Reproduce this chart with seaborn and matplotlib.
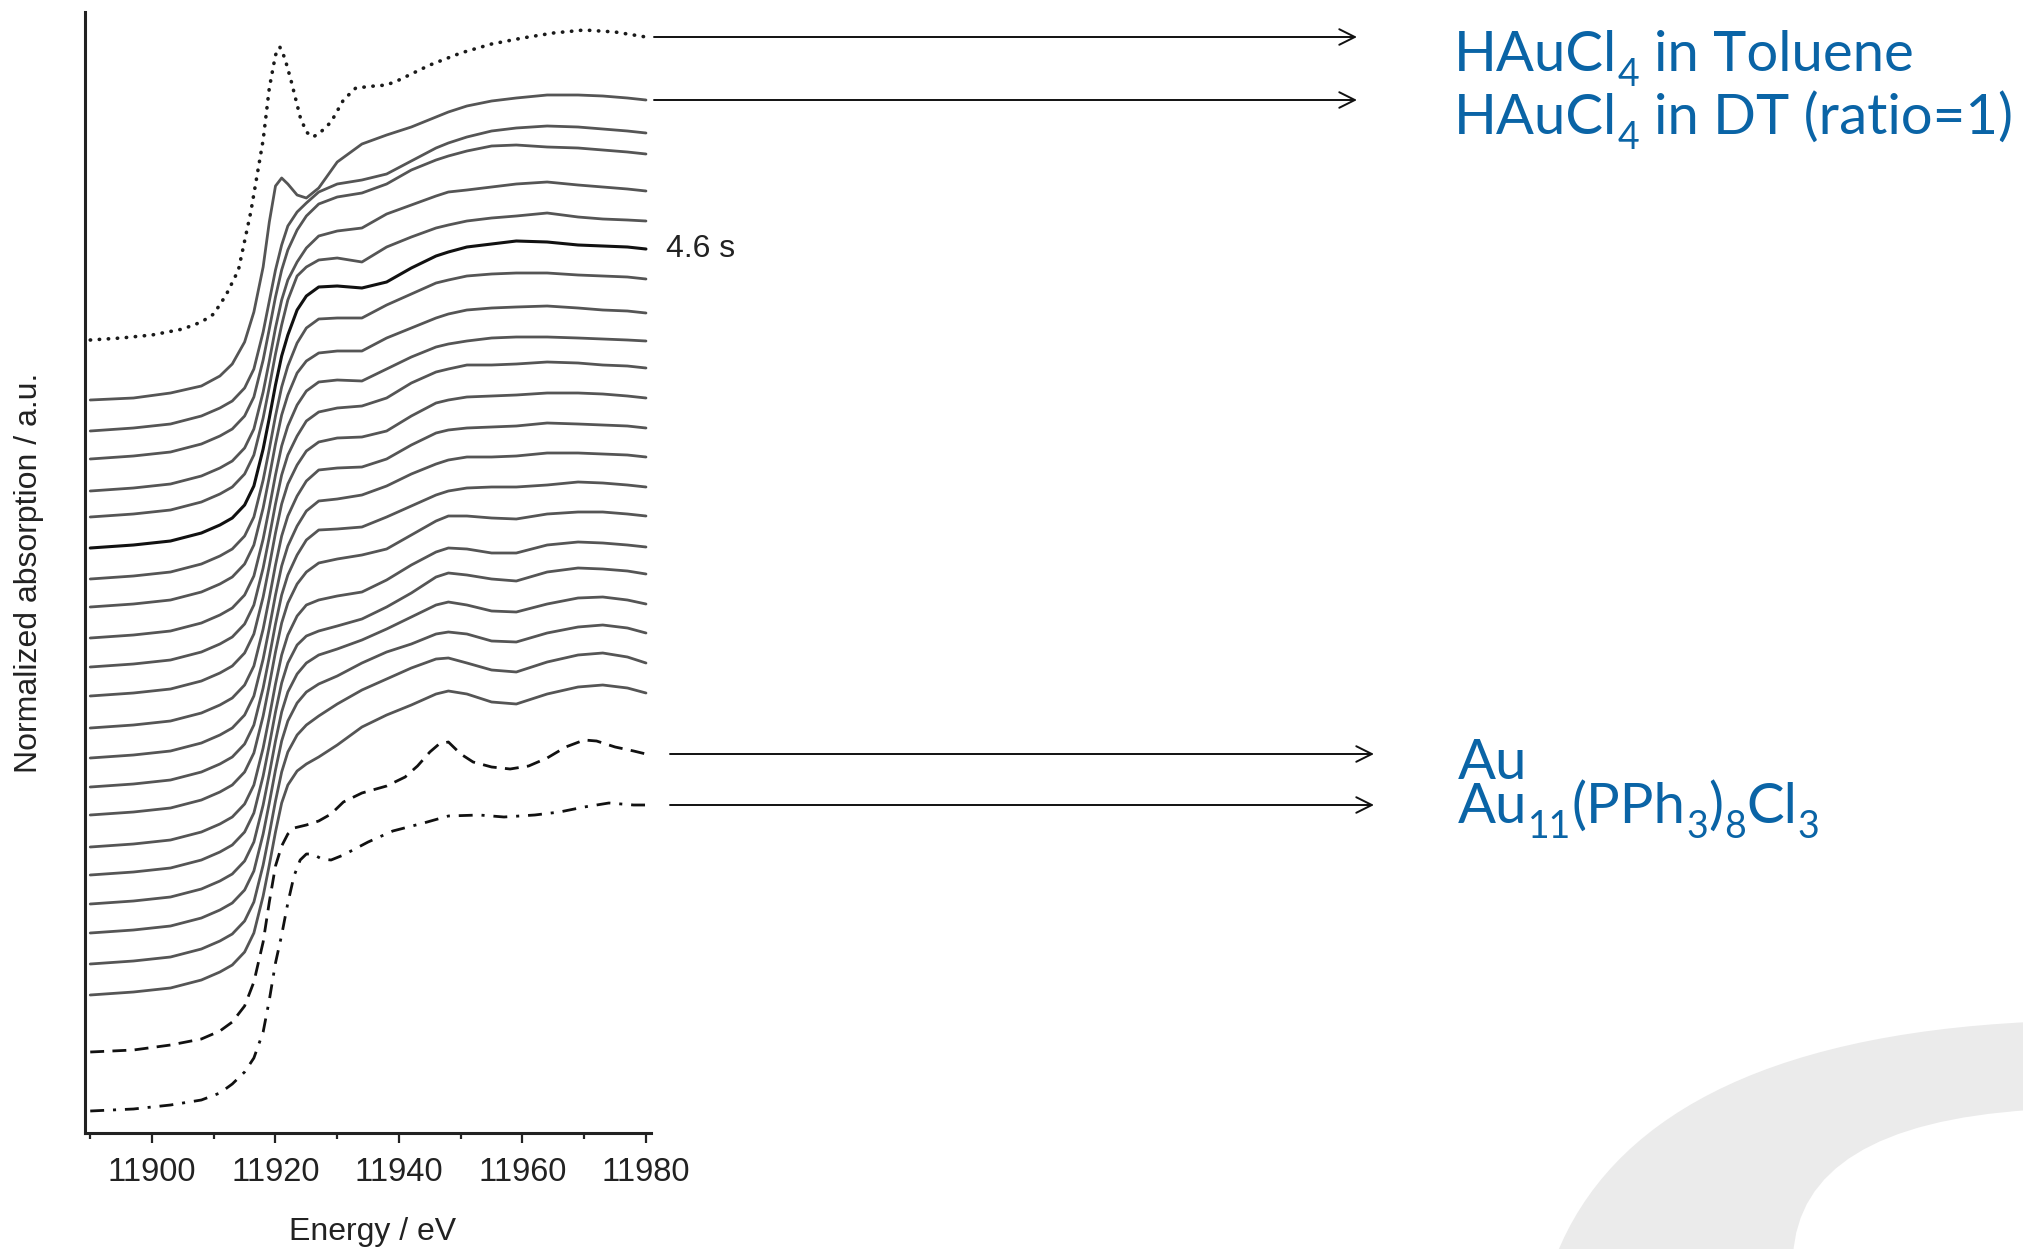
import matplotlib
matplotlib.use("Agg")
import matplotlib.pyplot as plt
import seaborn as sns
from matplotlib.path import Path
from matplotlib.patches import PathPatch

# ---------------- data (normalized absorption, stacked, arbitrary units) ----------------
energy = [11890, 11897, 11903, 11908, 11911, 11913, 11915, 11916.5, 11918, 11919,
          11920, 11921, 11922, 11923.5, 11925, 11927, 11930, 11934, 11938, 11942,
          11946, 11948, 11951, 11955, 11959, 11964, 11969, 11973, 11977, 11980]

scan_01 = [733, 735, 740, 747, 757, 769, 791, 821, 866, 911, 947, 955, 949, 938, 935, 945, 971, 989, 998, 1006, 1016, 1021, 1027, 1032, 1035, 1038, 1038, 1037, 1035, 1033]
scan_02 = [702, 705, 709, 717, 725, 732, 745, 764, 801, 832, 863, 888, 907, 921, 930, 941, 949, 953, 959, 972, 985, 990, 996, 1002, 1005, 1007, 1006, 1004, 1002, 1000]
scan_03 = [674, 677, 681, 689, 697, 704, 717, 736, 773, 804, 836, 863, 883, 903, 917, 929, 936, 940, 949, 963, 973, 977, 982, 987, 988, 986, 985, 983, 981, 979]
scan_04 = [642, 645, 649, 657, 665, 672, 685, 704, 741, 772, 805, 833, 853, 871, 885, 897, 902, 905, 919, 928, 937, 941, 943, 946, 949, 951, 948, 946, 944, 942]
scan_05 = [616, 619, 623, 631, 639, 646, 659, 678, 715, 746, 779, 808, 833, 857, 866, 873, 875, 871, 886, 896, 905, 908, 912, 915, 917, 920, 916, 914, 913, 912]
scan_06 = [585, 588, 592, 600, 608, 615, 628, 647, 684, 715, 748, 777, 798, 823, 837, 846, 847, 845, 851, 865, 877, 881, 886, 889, 892, 891, 888, 887, 886, 884]
scan_07 = [554, 557, 561, 569, 577, 584, 597, 616, 653, 684, 717, 746, 767, 790, 805, 814, 815, 815, 828, 839, 850, 853, 857, 859, 860, 860, 858, 857, 856, 854]
scan_08 = [526, 529, 533, 541, 549, 556, 569, 588, 625, 656, 689, 718, 738, 760, 772, 780, 782, 782, 795, 805, 815, 819, 823, 825, 826, 827, 825, 823, 822, 820]
scan_09 = [495, 498, 502, 510, 518, 525, 538, 557, 594, 625, 658, 687, 707, 728, 742, 751, 753, 752, 764, 776, 786, 789, 792, 795, 796, 796, 795, 794, 793, 792]
scan_10 = [466, 469, 473, 481, 489, 496, 509, 528, 565, 596, 629, 658, 678, 697, 712, 721, 725, 727, 735, 750, 761, 764, 768, 768, 769, 771, 770, 768, 767, 765]
scan_11 = [437, 440, 444, 452, 460, 467, 480, 499, 536, 567, 600, 629, 649, 668, 682, 691, 695, 696, 702, 717, 730, 733, 736, 737, 738, 740, 740, 739, 737, 735]
scan_12 = [405, 408, 412, 420, 428, 435, 448, 467, 504, 535, 568, 597, 617, 637, 652, 663, 665, 666, 674, 688, 700, 703, 705, 706, 707, 710, 709, 708, 707, 705]
scan_13 = [375, 378, 382, 390, 398, 405, 418, 437, 474, 505, 538, 567, 587, 607, 622, 632, 634, 638, 647, 659, 669, 673, 676, 676, 677, 680, 680, 679, 678, 676]
scan_14 = [346, 349, 353, 361, 369, 376, 389, 408, 445, 476, 509, 538, 558, 578, 593, 603, 604, 606, 616, 627, 638, 642, 645, 646, 646, 648, 651, 650, 648, 646]
scan_15 = [318, 321, 325, 333, 341, 348, 361, 380, 417, 448, 481, 510, 530, 549, 561, 570, 574, 578, 584, 598, 612, 617, 617, 615, 614, 619, 621, 621, 619, 617]
scan_16 = [286, 289, 293, 301, 309, 316, 329, 348, 385, 416, 449, 478, 498, 517, 528, 533, 537, 541, 553, 568, 581, 585, 584, 580, 580, 588, 591, 590, 588, 586]
scan_17 = [258, 261, 265, 273, 281, 288, 301, 320, 357, 388, 421, 450, 470, 488, 497, 502, 507, 514, 526, 540, 556, 560, 558, 554, 552, 561, 565, 564, 562, 559]
scan_18 = [229, 232, 236, 244, 252, 259, 272, 291, 328, 359, 392, 421, 441, 459, 470, 478, 484, 493, 504, 516, 528, 531, 528, 522, 521, 529, 535, 536, 533, 529]
scan_19 = [200, 203, 207, 215, 223, 230, 243, 262, 299, 330, 363, 392, 412, 430, 441, 449, 457, 470, 481, 489, 499, 501, 499, 492, 491, 500, 506, 508, 505, 500]
scan_20 = [169, 172, 176, 184, 192, 199, 212, 231, 268, 299, 332, 361, 381, 398, 408, 417, 429, 443, 454, 465, 474, 475, 470, 463, 461, 471, 478, 480, 476, 470]
scan_21 = [138, 141, 145, 153, 161, 168, 181, 200, 237, 268, 301, 330, 348, 362, 369, 376, 388, 406, 418, 428, 439, 442, 439, 431, 429, 439, 446, 448, 445, 440]

energy_toluene = [11890, 11895, 11900, 11905, 11908, 11910, 11912, 11914, 11916, 11918, 11919,
                  11920, 11920.7, 11921.5, 11922.5, 11924, 11925, 11926, 11927, 11929, 11931,
                  11933, 11936, 11938, 11940, 11945, 11950, 11955, 11960, 11965, 11970, 11975, 11980]
haucl4_toluene = [793, 795, 798, 804, 811, 819, 838, 863, 921, 993, 1045, 1078, 1086, 1075, 1053,
                  1016, 1001, 996, 999, 1011, 1033, 1045, 1047, 1048, 1053, 1068, 1080, 1089, 1095,
                  1100, 1103, 1101, 1096]

energy_au = [11890, 11897, 11903, 11908, 11911, 11913, 11915, 11916.5, 11918, 11919, 11920, 11921,
             11922, 11923, 11925, 11927, 11929, 11931, 11934, 11938, 11941, 11943, 11945, 11946.5,
             11948, 11950, 11952, 11955, 11958, 11961, 11964, 11967, 11970, 11972, 11975, 11978, 11980]
au_foil = [81, 83, 88, 94, 102, 111, 127, 151, 191, 231, 267, 287, 299, 305, 308, 312, 319, 331, 340,
           347, 356, 367, 381, 389, 391, 379, 371, 366, 364, 367, 375, 386, 393, 392, 386, 382, 379]

energy_au11 = [11890, 11897, 11903, 11908, 11911, 11913, 11915, 11916.5, 11918, 11919, 11920, 11921,
               11922, 11923, 11924, 11925, 11926, 11927.5, 11929, 11931, 11935, 11939, 11944, 11948,
               11953, 11957, 11962, 11966, 11970, 11974, 11978, 11980]
au11_cluster = [22, 24, 28, 33, 40, 49, 61, 75, 101, 133, 170, 198, 230, 257, 273, 279, 279, 274, 273,
                278, 291, 302, 310, 317, 318, 316, 318, 321, 326, 330, 328, 328]

time_scans = [scan_01, scan_02, scan_03, scan_04, scan_05, scan_06, scan_07, scan_08, scan_09,
              scan_10, scan_11, scan_12, scan_13, scan_14, scan_15, scan_16, scan_17, scan_18,
              scan_19, scan_20, scan_21]
highlight_index = 5
highlight_label = "4.6 s"

x_ticks = [11900, 11920, 11940, 11960, 11980]
x_minor = [11890, 11910, 11930, 11950, 11970]
x_label = "Energy / eV"
y_label = "Normalized absorption / a.u."

# reference labels as (text, is_subscript) pieces
label_toluene = [("HAuCl", False), ("4", True), ("in Toluene", False)]
label_dt = [("HAuCl", False), ("4", True), ("in DT (ratio=1)", False)]
label_au = [("Au", False)]
label_au11 = [("Au", False), ("11", True), ("(PPh", False), ("3", True), (")", False),
              ("8", True), ("Cl", False), ("3", True)]

# ---------------- style ----------------
sns.set_theme(style="white")
plt.rcParams["font.family"] = ["Liberation Sans", "DejaVu Sans"]

W, H = 2023, 1249
fig = plt.figure(figsize=(W / 100, H / 100), dpi=100)
fig.patch.set_facecolor("white")


def ff(x, y):
    return (x / W, 1 - y / H)


# light grey swoosh decoration (figure fraction)
verts = [ff(1556, 1256), ff(1610, 1120), ff(1760, 1035), ff(2030, 1022),
         ff(2030, 1110), ff(1800, 1125), ff(1793, 1256), ff(1556, 1256)]
codes = [Path.MOVETO, Path.CURVE4, Path.CURVE4, Path.CURVE4,
         Path.LINETO, Path.CURVE3, Path.CURVE3, Path.CLOSEPOLY]
fig.add_artist(PathPatch(Path(verts, codes), transform=fig.transFigure,
                         facecolor="#ebebeb", edgecolor="none", zorder=0))

ax = fig.add_axes([85 / W, 116 / H, 565.6 / W, 1121 / H])
ax.set_facecolor("none")

grey = "#555555"
for i, scan in enumerate(time_scans):
    hl = i == highlight_index
    sns.lineplot(x=energy, y=scan, ax=ax, color="#111111" if hl else grey,
                 linewidth=2.2 if hl else 2.0, sort=False, estimator=None, zorder=3 if hl else 2)

sns.lineplot(x=energy_toluene, y=haucl4_toluene, ax=ax, color="#1a1a1a", linewidth=2.6,
             linestyle=(0, (0.1, 2.4)), dash_capstyle="round", sort=False, estimator=None)
sns.lineplot(x=energy_au, y=au_foil, ax=ax, color="#111111", linewidth=2.0,
             linestyle=(0, (5.0, 3.0)), sort=False, estimator=None)
sns.lineplot(x=energy_au11, y=au11_cluster, ax=ax, color="#111111", linewidth=2.0,
             linestyle=(0, (5.0, 3.2, 1.1, 3.2)), sort=False, estimator=None)

ax.set_xlim(11889.15, 11980.75)
ax.set_ylim(0, 1121)
ax.set_xticks(x_ticks)
ax.set_xticks(x_minor, minor=True)
ax.set_yticks([])
ax.tick_params(axis="x", which="major", direction="out", length=7, width=1.6,
               colors="#222222", labelsize=23.5, pad=10.5, bottom=True)
ax.tick_params(axis="x", which="minor", direction="out", length=4, width=1.6,
               colors="#222222", bottom=True)
for side in ["top", "right"]:
    ax.spines[side].set_visible(False)
for side in ["left", "bottom"]:
    ax.spines[side].set_linewidth(2.2)
    ax.spines[side].set_color("#222222")

ax.set_xlabel(x_label, fontsize=23, color="#222222")
ax.xaxis.set_label_coords(0.509, -0.0745)
ax.set_ylabel(y_label, fontsize=23, color="#222222")
ax.yaxis.set_label_coords(-0.072, 0.5)

ax.annotate(highlight_label, xy=(1, time_scans[highlight_index][-1]),
            xycoords=("axes fraction", "data"), xytext=(15, 0), textcoords="offset pixels",
            va="center", ha="left", fontsize=23, color="#222222", annotation_clip=False)

# arrows pointing to reference labels
arrow_specs = [(haucl4_toluene[-1], 654, 1357), (scan_01[-1], 654, 1357),
               (au_foil[-1], 670, 1374), (au11_cluster[-1], 670, 1374)]
for yv, x0, x1 in arrow_specs:
    ax.annotate("", xy=(x1 / W, yv), xycoords=("figure fraction", "data"),
                xytext=(x0 / W, yv), textcoords=("figure fraction", "data"),
                arrowprops=dict(arrowstyle="->", lw=1.4, color="#111111",
                                mutation_scale=28, shrinkA=0, shrinkB=0),
                annotation_clip=False)

# blue labels with real subscripts
blue = "#0a64a6"
renderer = fig.canvas.get_renderer()
MAIN_PT = 40.5
SUB_PT = 27
SUB_DROP = 15   # pixels below the baseline
GAP = 0.5       # pixels between pieces
SPACE = 14      # pixels for a word space following a subscript


def draw_label(pieces, x_px, base_px):
    x = x_px
    prev_sub = False
    for txt, sub in pieces:
        if prev_sub and not sub and " " in txt:
            x += SPACE
        y = base_px + (SUB_DROP if sub else 0)
        t = fig.text(x / W, 1 - y / H, txt, fontsize=SUB_PT if sub else MAIN_PT,
                     family="Lato", color=blue, ha="left", va="baseline")
        x += t.get_window_extent(renderer).width + GAP
        prev_sub = sub


draw_label(label_toluene, 1454, 71)
draw_label(label_dt, 1454, 134)
draw_label(label_au, 1458, 779)
draw_label(label_au11, 1458, 823)

fig.savefig("out.png", dpi=100, facecolor="white")
